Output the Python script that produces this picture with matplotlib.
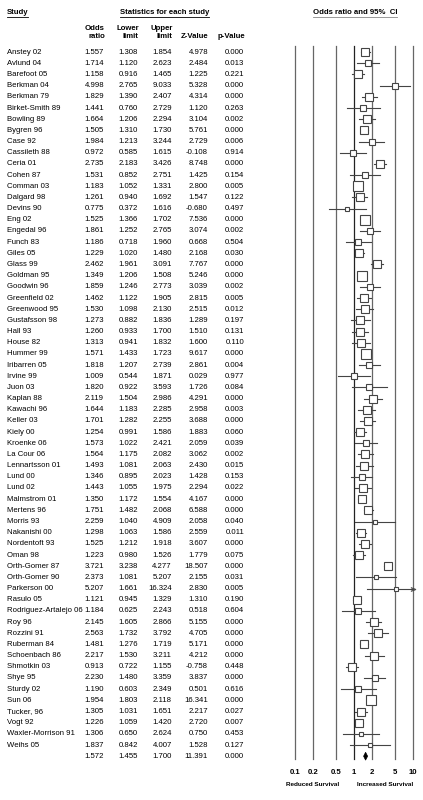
import numpy as np
import matplotlib
matplotlib.use('Agg')
import matplotlib.pyplot as plt
from matplotlib.transforms import blended_transform_factory
from matplotlib.patches import Polygon

plt.rcParams['font.family'] = ['Liberation Sans', 'DejaVu Sans']

studies = ['Anstey 02', 'Avlund 04', 'Barefoot 05', 'Berkman 04', 'Berkman 79', 'Birket-Smith 89',
           'Bowling 89', 'Bygren 96', 'Case 92', 'Cassileth 88', 'Ceria 01', 'Cohen 87', 'Comman 03',
           'Dalgard 98', 'Devins 90', 'Eng 02', 'Engedal 96', 'Funch 83', 'Giles 05', 'Glass 99',
           'Goldman 95', 'Goodwin 96', 'Greenfield 02', 'Greenwood 95', 'Gustafsson 98', 'Hall 93',
           'House 82', 'Hummer 99', 'Iribarren 05', 'Irvine 99', 'Juon 03', 'Kaplan 88', 'Kawachi 96',
           'Keller 03', 'Kiely 00', 'Kroenke 06', 'La Cour 06', 'Lennartsson 01', 'Lund 00', 'Lund 02',
           'Malmstrom 01', 'Mertens 96', 'Morris 93', 'Nakanishi 00', 'Nordentoft 93', 'Oman 98',
           'Orth-Gomer 87', 'Orth-Gomer 90', 'Parkerson 00', 'Rasulo 05', 'Rodriguez-Artalejo 06',
           'Roy 96', 'Rozzini 91', 'Ruberman 84', 'Schoenbach 86', 'Shmotkin 03', 'Shye 95',
           'Sturdy 02', 'Sun 06', 'Tucker, 96', 'Vogt 92', 'Waxler-Morrison 91', 'Weihs 05']

odds = [1.557, 1.714, 1.158, 4.998, 1.829, 1.441, 1.664, 1.505, 1.984, 0.972, 2.735, 1.531, 1.183,
        1.261, 0.775, 1.525, 1.861, 1.186, 1.229, 2.462, 1.349, 1.859, 1.462, 1.530, 1.273, 1.260,
        1.313, 1.571, 1.818, 1.009, 1.820, 2.119, 1.644, 1.701, 1.254, 1.573, 1.564, 1.493, 1.346,
        1.443, 1.350, 1.751, 2.259, 1.298, 1.525, 1.223, 3.721, 2.373, 5.207, 1.121, 1.184, 2.145,
        2.563, 1.481, 2.217, 0.913, 2.230, 1.190, 1.954, 1.305, 1.226, 1.306, 1.837]

lower = [1.308, 1.120, 0.916, 2.765, 1.390, 0.760, 1.206, 1.310, 1.213, 0.585, 2.183, 0.852, 1.052,
         0.940, 0.372, 1.366, 1.252, 0.718, 1.020, 1.961, 1.206, 1.246, 1.122, 1.098, 0.882, 0.933,
         0.941, 1.433, 1.207, 0.544, 0.922, 1.504, 1.183, 1.282, 0.991, 1.022, 1.175, 1.081, 0.895,
         1.055, 1.172, 1.482, 1.040, 1.063, 1.212, 0.980, 3.238, 1.081, 1.661, 0.945, 0.625, 1.605,
         1.732, 1.276, 1.530, 0.722, 1.480, 0.603, 1.803, 1.031, 1.059, 0.650, 0.842]

upper = [1.854, 2.623, 1.465, 9.033, 2.407, 2.729, 2.294, 1.730, 3.244, 1.615, 3.426, 2.751, 1.331,
         1.692, 1.616, 1.702, 2.765, 1.960, 1.480, 3.091, 1.508, 2.773, 1.905, 2.130, 1.836, 1.700,
         1.832, 1.723, 2.739, 1.871, 3.593, 2.986, 2.285, 2.255, 1.586, 2.421, 2.082, 2.063, 2.023,
         1.975, 1.554, 2.068, 4.909, 1.586, 1.918, 1.526, 4.277, 5.207, 16.324, 1.329, 2.243, 2.866,
         3.792, 1.719, 3.211, 1.155, 3.359, 2.349, 2.118, 1.651, 1.420, 2.624, 4.007]

zval = [4.978, 2.484, 1.225, 5.328, 4.314, 1.120, 3.104, 5.761, 2.729, -0.108, 8.748, 1.425, 2.800,
        1.547, -0.680, 7.536, 3.074, 0.668, 2.168, 7.767, 5.246, 3.039, 2.815, 2.515, 1.289, 1.510,
        1.600, 9.617, 2.861, 0.029, 1.726, 4.291, 2.958, 3.688, 1.883, 2.059, 3.062, 2.430, 1.428,
        2.294, 4.167, 6.588, 2.058, 2.559, 3.607, 1.779, 18.507, 2.155, 2.830, 1.310, 0.518, 5.155,
        4.705, 5.171, 4.212, -0.758, 3.837, 0.501, 16.341, 2.217, 2.720, 0.750, 1.528]

pval = [0.000, 0.013, 0.221, 0.000, 0.000, 0.263, 0.002, 0.000, 0.006, 0.914, 0.000, 0.154, 0.005,
        0.122, 0.497, 0.000, 0.002, 0.504, 0.030, 0.000, 0.000, 0.002, 0.005, 0.012, 0.197, 0.131,
        0.110, 0.000, 0.004, 0.977, 0.084, 0.000, 0.003, 0.000, 0.060, 0.039, 0.002, 0.015, 0.153,
        0.022, 0.000, 0.000, 0.040, 0.011, 0.000, 0.075, 0.000, 0.031, 0.005, 0.190, 0.604, 0.000,
        0.000, 0.000, 0.000, 0.448, 0.000, 0.616, 0.000, 0.027, 0.007, 0.453, 0.127]

summary = [1.572, 1.455, 1.700, 11.391, 0.000]
xticks = [0.1, 0.2, 0.5, 1, 2, 5, 10]

W, H = 423, 800
fig = plt.figure(figsize=(W / 100, H / 100), dpi=100)

n = len(studies)
sum_y = n

# forest axes: x 295..413 px, y 46..759 px
ax = fig.add_axes([295 / W, 1 - 759 / H, 118 / W, 713 / H])
ax.set_xscale('log')
ax.set_xlim(0.1, 10)
ax.set_ylim(63.25, -0.55)
for s in ax.spines.values():
    s.set_visible(False)
ax.set_yticks([])
ax.set_xticks(xticks)
ax.set_xticklabels([f'{t:g}' for t in xticks], fontsize=5.6, fontweight='bold')
ax.tick_params(axis='x', length=0, pad=7)
ax.minorticks_off()

for t in xticks:
    c = '#222222' if t == 1 else '#666666'
    ax.axvline(t, color=c, lw=0.9, clip_on=False, zorder=1)

odds = np.array(odds)
lower = np.array(lower)
upper = np.array(upper)
# box size from random-effects weight
se = (np.log(upper) - np.log(lower)) / 3.92
w_re = 1 / (se ** 2 + 0.05)
side_px = 2.1 * np.sqrt(w_re)

for i in range(n):
    lo = max(lower[i], 0.1)
    hi = min(upper[i], 10)
    ax.plot([lo, hi], [i, i], color='#444444', lw=0.8, zorder=2, clip_on=False)
    if upper[i] > 10:
        ax.plot([10], [i], marker=r'$>$', color='#444444', ms=3.5, mew=0.3, zorder=2, clip_on=False)
    ax.plot([odds[i]], [i], marker='s', ms=side_px[i] * 72 / 100, mfc='white',
            mec='#444444', mew=0.8, zorder=3, clip_on=False)

# summary diamond
est, lo, hi = summary[0], summary[1], summary[2]
ax.add_patch(Polygon([[lo, sum_y], [est, sum_y - 0.35], [hi, sum_y], [est, sum_y + 0.35]],
                     closed=True, facecolor='black', edgecolor='black', lw=0.5, zorder=4,
                     clip_on=False))

# table text, y in row units
tr = blended_transform_factory(fig.transFigure, ax.transData)
fs = 5.6
cols_x = [104, 138, 172, 208, 244]
for i in range(n):
    ax.text(7 / W, i, studies[i], transform=tr, fontsize=fs, va='center', ha='left')
    vals = [f'{odds[i]:.3f}', f'{lower[i]:.3f}', f'{upper[i]:.3f}', f'{zval[i]:.3f}', f'{pval[i]:.3f}']
    for xc, v in zip(cols_x, vals):
        ax.text(xc / W, i, v, transform=tr, fontsize=fs, va='center', ha='right')
vals = [f'{v:.3f}' for v in summary]
for xc, v in zip(cols_x, vals):
    ax.text(xc / W, sum_y, v, transform=tr, fontsize=fs, va='center', ha='right')

# headers
hfs = 5.6
fig.text(7 / W, 1 - 12 / H, 'Study', fontsize=hfs, fontweight='bold', va='center', ha='left')
fig.text(165 / W, 1 - 12 / H, 'Statistics for each study', fontsize=hfs, fontweight='bold',
         va='center', ha='center')
fig.text(355 / W, 1 - 12 / H, 'Odds ratio and 95%  CI', fontsize=hfs, fontweight='bold',
         va='center', ha='center')
fig.add_artist(plt.Line2D([7 / W, 28 / W], [1 - 17 / H] * 2, color='black', lw=0.6))
fig.add_artist(plt.Line2D([120 / W, 209 / W], [1 - 17 / H] * 2, color='black', lw=0.6))
fig.add_artist(plt.Line2D([313 / W, 397 / W], [1 - 17 / H] * 2, color='#888888', lw=0.6))

heads = [('Odds', 'ratio'), ('Lower', 'limit'), ('Upper', 'limit'), ('', 'Z-Value'), ('', 'p-Value')]
for xc, (a, b) in zip(cols_x, heads):
    if a:
        fig.text(xc / W + 0.002, 1 - 28 / H, a, fontsize=hfs, fontweight='bold', va='center', ha='right')
    fig.text(xc / W + 0.002, 1 - 37 / H, b, fontsize=hfs, fontweight='bold', va='center', ha='right')

fig.text(313 / W, 1 - 785 / H, 'Reduced Survival', fontsize=4.6, fontweight='bold',
         va='center', ha='center')
fig.text(385 / W, 1 - 785 / H, 'Increased Survival', fontsize=4.6, fontweight='bold',
         va='center', ha='center')

fig.savefig('out.png', dpi=100)
